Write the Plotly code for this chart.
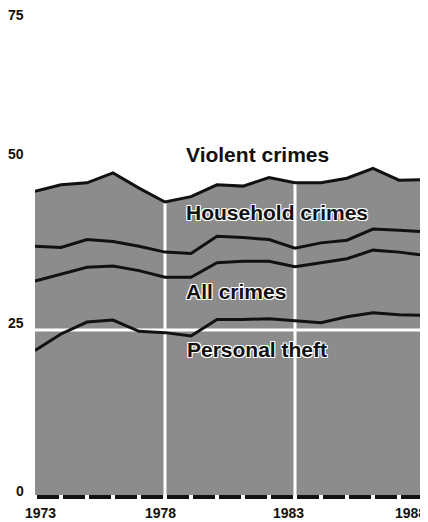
import plotly.graph_objects as go

# ---- data (percent of crimes reported to police) ----
years = list(range(1973, 1989))
violent = [46.0, 47.0, 47.3, 48.8, 46.5, 44.4, 45.2, 47.0, 46.8, 48.1, 47.3, 47.3, 48.0, 49.5, 47.7, 47.8]
household = [37.7, 37.5, 38.7, 38.4, 37.7, 36.8, 36.6, 39.2, 39.0, 38.7, 37.4, 38.2, 38.6, 40.3, 40.1, 39.9]
all_crimes = [32.4, 33.4, 34.5, 34.7, 34.0, 33.0, 33.0, 35.2, 35.4, 35.4, 34.6, 35.2, 35.8, 37.1, 36.8, 36.3]
personal_theft = [21.9, 24.4, 26.2, 26.5, 24.8, 24.6, 24.1, 26.6, 26.6, 26.7, 26.4, 26.1, 27.0, 27.6, 27.3, 27.2]

y_ticks = [0, 25, 50, 75]
x_tick_labels = [1973, 1978, 1983, 1988]
grid_x = [1978, 1983]
grid_y = [25]

series_labels = ["Violent crimes", "Household crimes", "All crimes", "Personal theft"]

# ---- styling ----
FONT = "Liberation Sans, Arial, sans-serif"
LINE_COLOR = "#111111"
# y-label positions in paper fraction plus pixel nudges
y_label_pos = [(0.0, 4), (0.0, 7), (0.0, 11), (1.0, -7)]
x_label_shift = [5, -5, -7, -15]
label_pos = [(0.382, 0.703), (0.382, 0.585), (0.382, 0.423), (0.384, 0.305)]

fig = go.Figure()

# shaded area under the top line
fig.add_trace(go.Scatter(
    x=years, y=violent, mode="lines", line=dict(width=0),
    fill="tozeroy", fillcolor="#8c8c8c",
    hoverinfo="skip", showlegend=False))

# white grid lines (above the fill, below the data lines)
for gx in grid_x:
    fig.add_trace(go.Scatter(x=[gx, gx], y=[0, max(y_ticks)], mode="lines",
                             line=dict(color="white", width=3),
                             hoverinfo="skip", showlegend=False))
for gy in grid_y:
    fig.add_trace(go.Scatter(x=[years[0], years[-1]], y=[gy, gy], mode="lines",
                             line=dict(color="white", width=3),
                             hoverinfo="skip", showlegend=False))

# data lines
for name, vals in zip(series_labels, [violent, household, all_crimes, personal_theft]):
    fig.add_trace(go.Scatter(x=years, y=vals, mode="lines", name=name,
                             line=dict(color=LINE_COLOR, width=3),
                             showlegend=False))

# segmented black baseline bar (one segment per year)
fig.add_trace(go.Bar(x=[y + 0.5 for y in years[:-1]], y=[0.6] * (len(years) - 1),
                     base=-0.6, width=0.88, marker=dict(color=LINE_COLOR, line=dict(width=0)),
                     hoverinfo="skip", showlegend=False))

annotations = []
for v, (yp, s) in zip(y_ticks, y_label_pos):
    if yp == 0.0:
        pos = dict(yref="y", y=v)
    else:
        pos = dict(yref="paper", y=yp)
    annotations.append(dict(text=f"<b>{v}</b>", xref="paper", x=0, xanchor="right", xshift=-9,
                            yanchor="middle", yshift=s, showarrow=False,
                            font=dict(family=FONT, size=14, color="#111"), **pos))
for v, s in zip(x_tick_labels, x_label_shift):
    annotations.append(dict(text=f"<b>{v}</b>", xref="x", x=v, xanchor="center", xshift=s,
                            yref="paper", y=0, yanchor="middle", yshift=-13, showarrow=False,
                            font=dict(family=FONT, size=14, color="#111")))
halo = "1px 1px 0 white, -1px -1px 0 white, 1px -1px 0 white, -1px 1px 0 white"
for txt, (px, py) in zip(series_labels, label_pos):
    annotations.append(dict(text=f"<b>{txt}</b>", xref="paper", x=px, xanchor="left",
                            yref="paper", y=py, yanchor="middle", showarrow=False,
                            font=dict(family=FONT, size=21, color="#111", shadow=halo)))

fig.update_layout(
    width=420, height=514,
    margin=dict(l=27, r=3, t=0, b=22, pad=0),
    paper_bgcolor="white", plot_bgcolor="white",
    showlegend=False, bargap=0,
    xaxis=dict(range=[years[0], years[-1]], showgrid=False, zeroline=False,
               showticklabels=False, ticks="", showline=False, automargin=False, fixedrange=True),
    yaxis=dict(range=[-0.76, 73.79], showgrid=False, zeroline=False,
               showticklabels=False, ticks="", showline=False, automargin=False, fixedrange=True),
    annotations=annotations,
)

fig.write_html("out.html")
